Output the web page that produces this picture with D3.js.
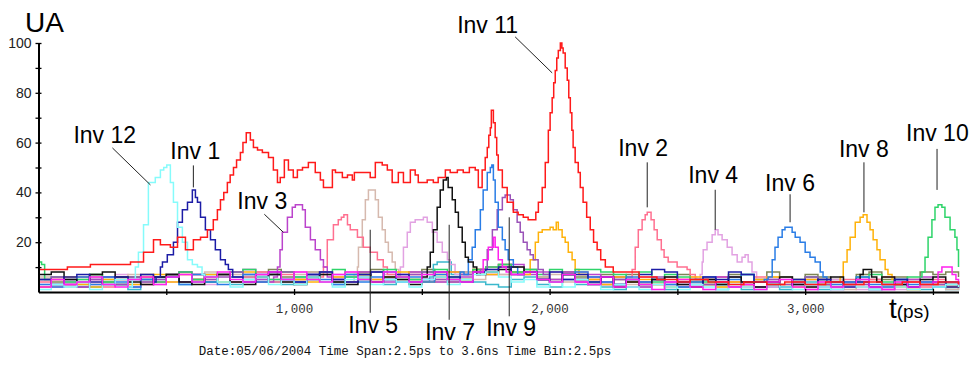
<!DOCTYPE html>
<html>
<head>
<meta charset="UTF-8">
<title>UA vs t(ps)</title>
<script src="https://d3js.org/d3.v7.min.js"></script>
<style>
  body { margin: 0; background: #fff; }
  svg { display: block; font-family: "Liberation Sans", Arial, sans-serif; }
  .mono { font-family: "Liberation Mono", "DejaVu Sans Mono", monospace; }
</style>
</head>
<body>
<svg></svg>
<script>
// noise floor of each trace, one reading every 50 ps from 0 to 3600 ps
const floorStep = 50;

const inv1Floor = [5,3,6,7,4,3,6,5,7,4, 8,5,4,7,8,5,4,7,8,5, 4,7,8,5,4,7,8,5,7,4, 5,8,6,4,8,9,10,7,8,5,
                   8,5,7,4,6,3,5,7,9,8, 4,3,6,5,8,7,4,3,2,5, 3,5,4,2,4,2,3,5,2,3, 4,2,3];
const inv2Floor = [4,2,5,6,3,2,5,6,3,4, 6,4,7,5,7,4,6,8,4,7, 5,7,4,8,6,4,8,5,4,7, 8,5,4,7,9,10,11,7,8,5,
                   4,7,8,5,6,3,6,5,8,6, 4,7,3,6,4,2,6,3,2,5, 6,3,2,5,2,5,6,2,4,2, 5,3,4];
const inv3Floor = [2,5,3,2,5,6,3,2,5,6, 7,8,5,4,7,8,9,5,4,8, 5,9,6,5,4,8,5,4,7,8, 5,4,8,6,8,7,10,11,7,8,
                   5,8,4,7,3,6,4,2,5,4, 3,2,5,6,2,4,2,5,2,3, 5,2,1,4,5,2,1,3,5,6, 3,2,4];
const inv4Floor = [3,6,4,2,5,6,7,3,6,4, 4,7,5,3,7,4,7,8,5,4, 8,5,4,7,8,5,4,7,8,5, 4,7,8,5,8,10,7,10,8,5,
                   8,5,4,3,6,2,5,6,3,2, 5,6,3,2,5,6,3,2,5,3, 1,4,5,2,1,5,3,1,4,5, 2,4,3];
const inv5Floor = [6,3,2,5,6,3,6,7,4,3, 7,4,7,8,4,7,4,8,5,4, 7,8,4,6,4,7,8,4,5,8, 7,4,6,8,5,9,7,10,8,6,
                   7,4,7,5,3,6,3,2,5,6, 2,5,6,2,4,3,5,6,2,4, 2,5,3,1,3,5,2,4,1,3, 2,1,3];
const inv6Floor = [3,2,5,6,3,6,4,2,5,6, 6,3,7,4,3,6,7,4,7,5, 4,7,5,3,7,4,6,8,4,6, 4,7,5,8,6,9,10,7,8,5,
                   4,7,8,6,4,3,6,4,5,3, 2,4,6,3,5,7,4,3,6,4, 2,5,3,4,6,3,2,5,3,4, 2,4,3];
const inv7Floor = [7,8,5,4,7,8,6,4,3,6, 7,4,3,6,7,4,3,6,7,4, 3,6,7,4,3,7,4,6,5,3, 6,7,8,5,4,8,9,10,8,5,
                   4,7,5,3,6,2,4,3,5,6, 3,2,5,3,6,4,2,4,6,3, 2,5,6,3,2,4,6,3,2,5, 6,3,3];
const inv8Floor = [2,5,6,3,2,5,6,3,6,7, 4,7,5,7,4,6,8,4,7,8, 5,4,8,6,4,7,5,6,8,5, 4,7,8,5,9,7,10,8,7,5,
                   7,4,6,5,3,6,4,5,3,2, 5,6,3,2,4,3,5,6,3,2, 5,3,4,2,5,3,4,2,1,3, 3,2,3];
const inv9Floor = [5,6,3,2,5,6,3,6,4,5, 7,4,7,5,6,8,5,4,7,8, 4,7,8,5,4,6,8,5,4,7, 8,5,4,7,8,9,10,8,7,5,
                   4,7,5,6,4,5,2,4,6,3, 2,5,3,4,6,3,2,5,3,4, 6,3,2,4,3,1,3,5,2,4, 3,4,3];
const inv10Floor = [5,6,4,5,7,4,3,6,5,4, 7,8,5,4,7,8,9,6,5,8, 6,5,8,9,6,5,8,9,6,5, 8,9,6,5,9,10,11,8,9,7,
                    9,7,9,9,8,7,5,8,4,7, 6,5,4,3,6,7,4,3,2,5, 6,3,2,4,6,7,4,5,6,7, 6,5,5];
const inv12Floor = [1,3,2,4,1,3,5,2,1,3, 5,4,3,6,4,2,5,6,3,5, 3,6,4,2,5,6,3,5,4,2, 5,6,3,5,7,8,6,4,5,2,
                    4,2,5,3,1,3,2,1,3,2, 1,3,2,1,3,2,1,3,2,1, 3,2,1,3,2,1,3,2,1,3, 2,3,2];
const magentaFloor = [2,5,3,4,6,3,2,5,6,3, 6,7,4,6,8,5,4,7,8,5, 8,5,4,7,8,5,4,8,6,4, 7,8,5,4,8,9,10,7,8,5,
                      4,7,4,3,6,2,5,3,1,4, 5,2,1,4,2,3,1,4,5,2, 1,4,2,3,5,2,1,4,2,3, 5,2,3];
const oliveFloor = [5,4,3,6,7,4,5,6,7,4, 7,8,5,6,7,4,7,8,9,6, 5,8,7,4,7,8,9,6,5,8, 9,6,5,8,9,10,11,8,9,6,
                    5,8,6,4,7,5,7,4,5,6, 7,4,5,6,7,4,5,8,6,4, 7,6,5,4,7,8,5,6,5,8, 7,8,6];
const tealFloor = [2,3,4,3,2,5,3,1,4,5, 6,3,4,7,4,3,6,5,4,3, 6,5,4,3,6,5,4,3,6,5, 4,3,6,7,4,3,2,5,6,3,
                   2,5,3,4,2,1,4,2,3,1, 4,2,3,1,2,1,4,2,1,3, 4,1,2,3,4,1,2,3,2,1, 2,1,3];

// pulses: [t (ps), UA]
const inv1Peak = [[460,6],[477,10],[485,12],[504,15],[528,20],[544,28],[563,33],[583,36],[602,41],[614,38],
  [622,36],[634,30],[653,25],[673,21],[692,17],[712,13],[731,11],[743,9],[760,6]];
const inv2PeakA = [[1100,6],[1115,10],[1130,21],[1154,27],[1173,29],[1185,30],[1195,31],[1209,27],[1220,25],
  [1248,22],[1271,18],[1298,16],[1326,13],[1349,10],[1365,7]];
const inv2PeakB = [[2310,6],[2323,9],[2335,18],[2347,25],[2362,29],[2374,31],[2382,32],[2397,29],[2409,25],
  [2421,21],[2437,17],[2448,14],[2464,12],[2480,12],[2499,10],[2519,10],[2538,9],[2550,7],[2570,5]];
const inv3Peak = [[920,6],[935,10],[945,17],[954,24],[974,30],[993,34],[1005,35],[1020,35],[1033,33],[1044,26],
  [1064,21],[1083,17],[1103,13],[1115,10],[1130,6]];
const inv4PeakA = [[1400,6],[1416,10],[1428,18],[1443,24],[1455,28],[1474,29],[1494,29],[1506,30],[1521,28],
  [1541,24],[1560,20],[1580,16],[1600,13],[1611,11],[1630,7]];
const inv4PeakB = [[2575,5],[2589,7],[2597,12],[2601,17],[2616,20],[2636,23],[2648,25],[2659,23],[2675,21],
  [2695,18],[2714,15],[2734,12],[2753,14],[2765,15],[2777,12],[2792,8],[2810,5]];
const inv5Peak = [[1235,7],[1248,10],[1252,18],[1267,29],[1279,37],[1291,41],[1306,41],[1318,37],[1330,30],
  [1345,25],[1357,20],[1369,16],[1384,12],[1396,9],[1410,6]];
const inv6PeakA = [[1665,7],[1682,13],[1697,18],[1709,25],[1729,33],[1740,41],[1756,48],[1768,50],[1774,51],
  [1780,45],[1787,36],[1799,26],[1815,21],[1826,17],[1838,13],[1858,10],[1875,7]];
const inv6PeakB = [[2840,5],[2855,6],[2871,13],[2882,18],[2894,22],[2910,25],[2921,26],[2933,26],[2949,24],
  [2961,22],[2980,20],[3000,16],[3019,14],[3039,12],[3059,8],[3070,6],[3085,4]];
const inv7PeakA = [[1505,6],[1521,10],[1533,16],[1545,25],[1560,34],[1572,41],[1584,45],[1596,46],[1603,42],
  [1619,37],[1631,32],[1643,26],[1658,20],[1670,14],[1682,12],[1701,10],[1715,7]];
const inv7PeakB = [[3200,5],[3215,7],[3227,9],[3245,9],[3260,6],[3280,4]];
const inv8PeakA = [[1910,7],[1924,13],[1944,20],[1956,24],[1971,25],[1991,25],[2002,26],[2014,25],[2026,28],
  [2034,25],[2049,22],[2061,20],[2073,16],[2088,13],[2100,9],[2115,7]];
const inv8PeakB = [[3120,4],[3137,6],[3149,12],[3164,17],[3176,22],[3196,28],[3215,30],[3227,31],[3242,28],
  [3254,25],[3266,21],[3281,17],[3293,13],[3313,9],[3324,7],[3340,5]];
const inv9Peak = [[1715,7],[1729,9],[1756,17],[1776,25],[1795,33],[1815,38],[1826,39],[1846,37],[1858,33],
  [1873,28],[1885,24],[1897,20],[1912,17],[1924,15],[1936,13],[1955,9],[1975,7]];
const inv10PeakA = [[0,12],[12,11],[24,5]];
const inv10PeakB = [[3440,6],[3457,8],[3469,14],[3481,22],[3496,29],[3508,34],[3520,35],[3535,34],[3547,30],
  [3567,25],[3586,22],[3594,17],[3600,10]];
const inv11Trace = [[0,9],[113,10],[203,11],[360,12],[411,16],[450,21],[477,19],[516,18],[544,22],[575,17],
  [606,21],[634,22],[661,25],[684,29],[700,33],[712,37],[725,40],[739,44],[750,47],[763,50],[775,53],[790,56],
  [800,60],[813,64],[829,61],[841,58],[857,57],[876,56],[888,56],[900,54],[919,49],[935,44],[946,46],[962,53],
  [978,49],[997,46],[1013,49],[1033,50],[1056,52],[1083,48],[1103,45],[1115,42],[1130,42],[1150,49],[1162,48],
  [1189,46],[1209,47],[1228,45],[1236,48],[1248,48],[1271,48],[1298,46],[1318,52],[1345,51],[1365,49],[1384,44],
  [1408,48],[1428,44],[1455,49],[1474,47],[1486,44],[1521,45],[1545,44],[1564,46],[1592,49],[1611,48],[1639,49],
  [1662,48],[1686,50],[1709,49],[1721,42],[1736,49],[1748,54],[1756,58],[1762,63],[1768,66],[1772,73],[1780,68],
  [1787,62],[1793,55],[1799,49],[1815,42],[1834,36],[1858,32],[1877,31],[1897,30],[1916,29],[1936,29],[1946,32],
  [1956,36],[1971,42],[1983,52],[1995,65],[2002,72],[2010,78],[2016,84],[2022,89],[2028,94],[2034,97],[2042,100],
  [2048,98],[2053,96],[2061,90],[2069,85],[2075,78],[2081,72],[2087,65],[2092,58],[2100,52],[2112,48],[2120,42],
  [2131,36],[2145,30],[2159,25],[2172,20],[2186,17],[2200,13],[2218,10],[2249,8],[2304,8],[2350,6],[2420,5],
  [2500,4],[2550,5],[2620,4],[2700,3],[2760,4],[2850,3],[2920,4],[3000,3],[3080,4],[3150,3],[3230,4],[3300,3],
  [3380,4],[3450,3],[3520,4],[3600,3]];
const inv12Peak = [[367,5],[379,10],[391,16],[411,27],[430,44],[457,46],[477,49],[490,50],[502,51],[516,44],
  [528,36],[544,26],[563,20],[583,13],[602,11],[622,10],[640,7]];
const magentaPeakA = [[1725,8],[1740,13],[1760,18],[1780,22],[1787,18],[1799,13],[1815,10],[1830,8]];
const magentaPeakB = [[3500,4],[3520,8],[3535,10],[3560,10],[3575,7],[3590,5]];
const tealPeak = [[1530,6],[1545,11],[1560,12],[1600,12],[1615,7]];

const traces = [
  { color: '#7d8556', floor: oliveFloor, peaks: [] },
  { color: '#3ab8cc', floor: tealFloor, peaks: [tealPeak] },
  { color: '#e2a2e2', floor: inv4Floor, peaks: [inv4PeakA, inv4PeakB] },
  { color: '#d6b9ae', floor: inv5Floor, peaks: [inv5Peak] },
  { color: '#ff7090', floor: inv2Floor, peaks: [inv2PeakA, inv2PeakB] },
  { color: '#bb44cc', floor: inv3Floor, peaks: [inv3Peak] },
  { color: '#ffb20a', floor: inv8Floor, peaks: [inv8PeakA, inv8PeakB] },
  { color: '#2ed46a', floor: inv10Floor, peaks: [inv10PeakA, inv10PeakB] },
  { color: '#9a52b8', floor: inv9Floor, peaks: [inv9Peak] },
  { color: '#2a7de6', floor: inv6Floor, peaks: [inv6PeakA, inv6PeakB] },
  { color: '#111111', floor: inv7Floor, peaks: [inv7PeakA, inv7PeakB] },
  { color: '#1c1ca6', floor: inv1Floor, peaks: [inv1Peak] },
  { color: '#86fbfb', floor: inv12Floor, peaks: [inv12Peak] },
  { color: '#ff22ee', floor: magentaFloor, peaks: [magentaPeakA, magentaPeakB] },
  { color: '#ff1a1a', floor: null, peaks: [inv11Trace] }
];

const yTicks = [10, 20, 30, 40, 50, 60, 70, 80, 90, 100];
const xTicks = [500, 1000, 1500, 2000, 2500, 3000, 3500];

// leader lines: tip on the pulse (t, UA); line start and text offsets in px
const notes = [
  { name: 'Inv 12', t: 438, v: 43, lx: -38, ly: -37, tx: -77, ty: -42 },
  { name: 'Inv 1', t: 606, v: 42, lx: 0, ly: -22, tx: -23, ty: -28 },
  { name: 'Inv 3', t: 958, v: 24, lx: -19, ly: -18, tx: -46, ty: -23 },
  { name: 'Inv 5', t: 1298, v: 25, lx: 0, ly: 83, tx: -22, ty: 103 },
  { name: 'Inv 7', t: 1607, v: 27, lx: 0, ly: 95, tx: -24, ty: 115 },
  { name: 'Inv 9', t: 1842, v: 30, lx: 0, ly: 99, tx: -23, ty: 119 },
  { name: 'Inv 11', t: 2010, v: 88, lx: -37, ly: -36, tx: -95, ty: -40 },
  { name: 'Inv 2', t: 2382, v: 34, lx: 0, ly: -45, tx: -29, ty: -51 },
  { name: 'Inv 4', t: 2648, v: 25, lx: 0, ly: -40, tx: -27, ty: -47 },
  { name: 'Inv 6', t: 2941, v: 28, lx: 0, ly: -28, tx: -25, ty: -31 },
  { name: 'Inv 8', t: 3230, v: 32, lx: 0, ly: -50, tx: -25, ty: -55 },
  { name: 'Inv 10', t: 3516, v: 41, lx: 0, ly: -41, tx: -31, ty: -49 }
];

const width = 969, height = 365;

const svg = d3.select('svg')
  .attr('width', width)
  .attr('height', height);

svg.append('rect').attr('width', width).attr('height', height).attr('fill', '#fff');

const x = d3.scaleLinear().domain([0, 3600]).range([38.5, 958.5]);
const y = d3.scaleLinear().domain([0, 100]).range([292, 43]);

// floor readings outside the pulses + the pulses themselves
function tracePoints(tr) {
  const pts = [];
  if (tr.floor) {
    tr.floor.forEach((v, i) => {
      const t = i * floorStep;
      const covered = tr.peaks.some(p => t >= p[0][0] && t <= p[p.length - 1][0]);
      if (!covered) pts.push([t, v]);
    });
  }
  tr.peaks.forEach(p => p.forEach(d => pts.push(d)));
  return pts.sort((a, b) => a[0] - b[0]);
}

const line = d3.line()
  .x(d => x(d[0]))
  .y(d => y(d[1]))
  .curve(d3.curveStepAfter);

svg.append('g')
  .selectAll('path')
  .data(traces)
  .enter().append('path')
  .attr('d', d => line(tracePoints(d)))
  .attr('fill', 'none')
  .attr('stroke', d => d.color)
  .attr('stroke-width', 1.5);

// axes
const yAxis = svg.append('g')
  .attr('transform', `translate(${x(0)},0)`)
  .call(d3.axisLeft(y).tickValues(yTicks).tickSize(3).tickSizeOuter(0).tickPadding(4)
    .tickFormat(d => d % 20 === 0 ? d : ''));
yAxis.select('.domain').attr('stroke', '#000').attr('stroke-width', 2);
yAxis.selectAll('.tick line').attr('x1', 3).attr('stroke', '#000').attr('stroke-width', 1.3);
yAxis.selectAll('.tick text').attr('font-size', '14px').attr('fill', '#222')
  .attr('font-family', '"Liberation Sans", Arial, sans-serif');

const xAxis = svg.append('g')
  .attr('transform', `translate(0,${y(0)})`)
  .call(d3.axisBottom(x).tickValues(xTicks).tickSize(3).tickSizeOuter(0).tickPadding(9)
    .tickFormat(d => d % 1000 === 0 ? d3.format(',')(d) : ''));
xAxis.select('.domain').attr('stroke', '#000').attr('stroke-width', 2);
xAxis.selectAll('.tick line').attr('y1', -3).attr('stroke', '#000').attr('stroke-width', 1.3);
xAxis.selectAll('.tick text').attr('class', 'mono').attr('font-size', '12.5px').attr('fill', '#333');

// annotations
const ann = svg.append('g').selectAll('g').data(notes).enter().append('g');
ann.append('line')
  .attr('x1', d => x(d.t) + d.lx)
  .attr('y1', d => y(d.v) + d.ly)
  .attr('x2', d => x(d.t))
  .attr('y2', d => y(d.v))
  .attr('stroke', '#222')
  .attr('stroke-width', 1);
ann.append('text')
  .attr('x', d => x(d.t) + d.tx)
  .attr('y', d => y(d.v) + d.ty)
  .attr('font-size', '23px')
  .attr('fill', '#000')
  .text(d => d.name);

// titles
svg.append('text')
  .attr('x', 25)
  .attr('y', 32)
  .attr('font-size', '28px')
  .text('UA');

const tLabel = svg.append('text')
  .attr('x', 889)
  .attr('y', 318);
tLabel.append('tspan').attr('font-size', '28px').text('t');
tLabel.append('tspan').attr('font-size', '19px').text('(ps)');

svg.append('text')
  .attr('class', 'mono')
  .attr('x', 405)
  .attr('y', 355)
  .attr('text-anchor', 'middle')
  .attr('font-size', '12.5px')
  .attr('fill', '#111')
  .text('Date:05/06/2004 Time Span:2.5ps to 3.6ns Time Bin:2.5ps');
</script>
</body>
</html>
